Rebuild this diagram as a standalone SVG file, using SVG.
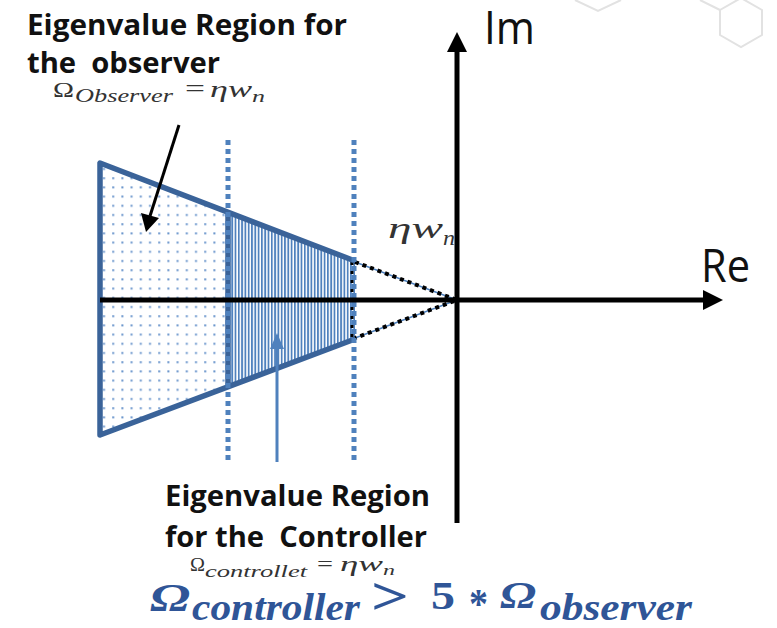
<svg xmlns="http://www.w3.org/2000/svg" width="777" height="628" viewBox="0 0 777 628">
<style>
.lbl{font-family:"Open Sans","Liberation Sans",sans-serif;font-weight:700;font-size:28px;fill:#111}
.ax{font-family:"Open Sans","Liberation Sans",sans-serif;font-size:46px;fill:#111}
.tex{font-family:"Liberation Serif","DejaVu Serif",serif;fill:#333}
.it{font-style:italic}
.frm{font-family:"Liberation Serif","DejaVu Serif",serif;font-weight:700;fill:#2F5597}
.hex{fill:none;stroke:#e2e2e2;stroke-width:2}
</style>
<defs>
<pattern id="dots" width="9.2" height="9.2" patternUnits="userSpaceOnUse" x="100" y="165">
<rect x="3" y="3" width="2" height="2" fill="#6A95CC"/>
</pattern>
<pattern id="stripes" width="3.3" height="10" patternUnits="userSpaceOnUse" x="228" y="0">
<rect x="0" y="0" width="1.8" height="10" fill="#4F81BD"/>
</pattern>
</defs>

<g id="decor">
<path class="hex" d="M575,0 L598,11 L621,0"/>
<path class="hex" d="M741,-2 L762,10 L762,35 L741,47 L720,35 L720,10 Z"/>
<path class="hex" d="M700,0 L720,10"/>
</g>

<g id="observer-region">
<polygon points="100,163 228,212 228,387 100,435" fill="url(#dots)"/>
</g>
<g id="controller-region">
<polygon points="228,212 355,261 355,339 228,387" fill="url(#stripes)"/>
</g>
<g id="dashed-extension">
<path d="M355,262 L457,300 L355,338" fill="none" stroke="#4F81BD" stroke-width="1.5"/>
<path d="M355,262 L457,300 L355,338" fill="none" stroke="#000" stroke-width="4" stroke-dasharray="4 4"/>
<path d="M352,262 L352,338" fill="none" stroke="#000" stroke-width="3" stroke-dasharray="3 6"/>
</g>
<g id="region-outline">
<path d="M355,261 L100,163 L100,435 L355,339 M228,212 L228,387" fill="none" stroke="#3A6399" stroke-width="5.5" stroke-linejoin="round"/>
</g>
<g id="boundaries">
<line x1="228" y1="140" x2="228" y2="460" stroke="#4F81BD" stroke-width="5" stroke-dasharray="5 4"/>
<line x1="354" y1="140" x2="354" y2="460" stroke="#4F81BD" stroke-width="5" stroke-dasharray="5 4"/>
</g>

<g id="axes">
<line x1="100" y1="300" x2="705" y2="300" stroke="#000" stroke-width="5"/>
<path d="M703,290 L723,300 L703,310 Z" fill="#000"/>
<line x1="457" y1="523" x2="457" y2="50" stroke="#000" stroke-width="5"/>
<path d="M447,52 L457,32 L467,52 Z" fill="#000"/>
<text class="ax" x="484" y="44" textLength="51" lengthAdjust="spacingAndGlyphs">Im</text>
<text class="ax" x="701" y="282" textLength="49" lengthAdjust="spacingAndGlyphs">Re</text>
</g>

<g id="connectors">
<line x1="179" y1="125" x2="150" y2="216" stroke="#000" stroke-width="3"/>
<path d="M141,213 L146,232 L159,218 Z" fill="#000"/>
<line x1="277" y1="462" x2="277" y2="348" stroke="#4F81BD" stroke-width="3"/>
<path d="M270,349 L277,333 L284,349 Z" fill="#4F81BD"/>
</g>

<g id="observer-label">
<text class="lbl" x="27" y="35" textLength="320" lengthAdjust="spacingAndGlyphs">Eigenvalue Region for</text>
<text class="lbl" x="27" y="73" textLength="193" lengthAdjust="spacingAndGlyphs" xml:space="preserve">the  observer</text>
<text class="tex" x="53" y="97" font-size="22" textLength="21" lengthAdjust="spacingAndGlyphs">Ω</text>
<text class="tex it" x="75" y="102" font-size="18" textLength="98" lengthAdjust="spacingAndGlyphs">Observer</text>
<text class="tex" x="185" y="97" font-size="26" textLength="20" lengthAdjust="spacingAndGlyphs">=</text>
<text class="tex it" x="210" y="97" font-size="24" textLength="42" lengthAdjust="spacingAndGlyphs">ηw</text>
<text class="tex it" x="252" y="102" font-size="17" textLength="13" lengthAdjust="spacingAndGlyphs">n</text>
</g>

<g id="eta-label">
<text class="tex it" x="388" y="238" font-size="30" textLength="55" lengthAdjust="spacingAndGlyphs">ηw</text>
<text class="tex it" x="443" y="245" font-size="20" textLength="12" lengthAdjust="spacingAndGlyphs">n</text>
</g>

<g id="controller-label">
<text class="lbl" x="165" y="506" textLength="265" lengthAdjust="spacingAndGlyphs">Eigenvalue Region</text>
<text class="lbl" x="165" y="547" textLength="262" lengthAdjust="spacingAndGlyphs" xml:space="preserve">for the  Controller</text>
<text class="tex" x="190" y="571" font-size="18" textLength="15" lengthAdjust="spacingAndGlyphs">Ω</text>
<text class="tex it" x="205" y="577" font-size="16" textLength="102" lengthAdjust="spacingAndGlyphs">controllet</text>
<text class="tex" x="317" y="571" font-size="22" textLength="16" lengthAdjust="spacingAndGlyphs">=</text>
<text class="tex it" x="340" y="571" font-size="20" textLength="43" lengthAdjust="spacingAndGlyphs">ηw</text>
<text class="tex it" x="383" y="575" font-size="14" textLength="12" lengthAdjust="spacingAndGlyphs">n</text>
</g>

<g id="inequality">
<text class="frm it" x="150" y="611" font-size="40" textLength="40" lengthAdjust="spacingAndGlyphs">Ω</text>
<text class="frm it" x="192" y="620" font-size="38" textLength="168" lengthAdjust="spacingAndGlyphs">controller</text>
<text class="frm" x="371" y="614" font-size="52" textLength="38" lengthAdjust="spacingAndGlyphs">&gt;</text>
<text class="frm" x="431" y="609" font-size="40" textLength="24" lengthAdjust="spacingAndGlyphs">5</text>
<text class="frm" x="469" y="618" font-size="42" textLength="19" lengthAdjust="spacingAndGlyphs">*</text>
<text class="frm it" x="500" y="608" font-size="38" textLength="36" lengthAdjust="spacingAndGlyphs">Ω</text>
<text class="frm it" x="540" y="620" font-size="38" textLength="152" lengthAdjust="spacingAndGlyphs">observer</text>
</g>
</svg>
